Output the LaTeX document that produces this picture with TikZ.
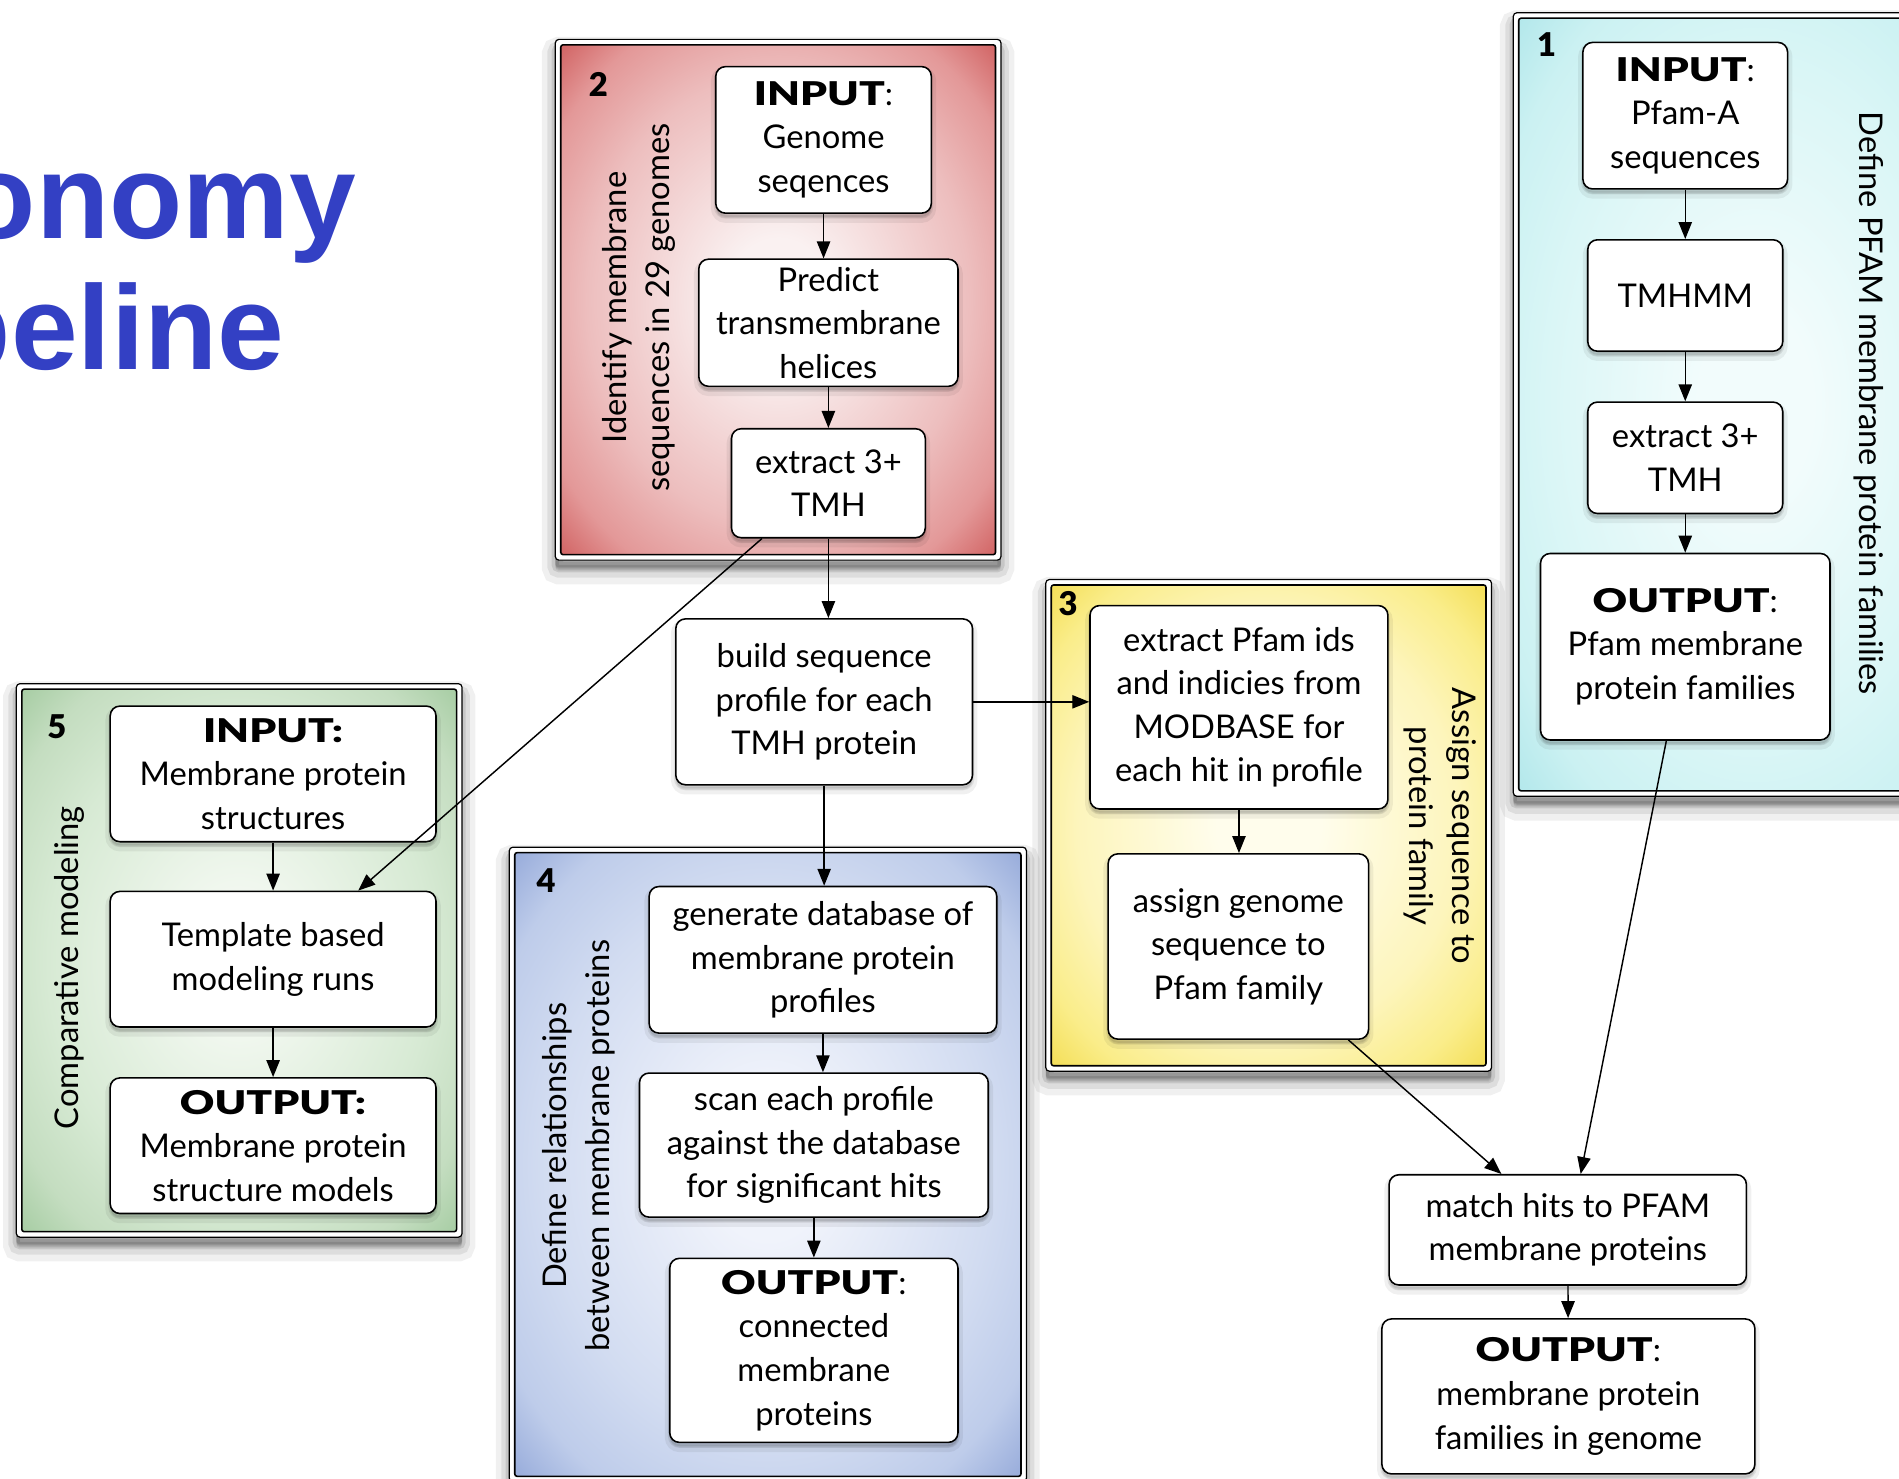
\documentclass[tikz,border=0pt]{standalone}
\usepackage{fontspec}
\usepackage{graphicx}
\setmainfont{Lato}
\newfontfamily\titlefont{Liberation Sans}
\IfFontExistsTF{Lato Black}{\newfontfamily\heavyfont{Lato Black}}{\newcommand\heavyfont{\bfseries}}
\usetikzlibrary{arrows.meta,calc}

% panel gradients: light centre, saturated corners
\definecolor{rIn}{RGB}{250,241,241}\definecolor{rMid}{RGB}{237,190,190}\definecolor{rEdge}{RGB}{227,152,152}\definecolor{rOut}{RGB}{204,84,84}
\definecolor{gIn}{RGB}{242,248,240}\definecolor{gMid}{RGB}{215,234,212}\definecolor{gEdge}{RGB}{196,221,192}\definecolor{gOut}{RGB}{158,200,155}
\definecolor{bIn}{RGB}{240,243,251}\definecolor{bMid}{RGB}{210,220,241}\definecolor{bEdge}{RGB}{190,204,234}\definecolor{bOut}{RGB}{140,162,214}
\definecolor{yIn}{RGB}{255,253,236}\definecolor{yMid}{RGB}{253,245,188}\definecolor{yEdge}{RGB}{250,237,138}\definecolor{yOut}{RGB}{242,218,72}
\definecolor{cIn}{RGB}{242,252,252}\definecolor{cMid}{RGB}{218,246,246}\definecolor{cEdge}{RGB}{203,241,242}\definecolor{cOut}{RGB}{172,229,233}
\definecolor{titleblue}{RGB}{51,64,196}

\pgfdeclareradialshading{shRed}{\pgfpoint{0bp}{0bp}}{color(0bp)=(rIn); color(6bp)=(rIn); color(22bp)=(rMid); color(30bp)=(rEdge); color(37bp)=(rOut); color(50bp)=(rOut)}
\pgfdeclareradialshading{shGreen}{\pgfpoint{0bp}{0bp}}{color(0bp)=(gIn); color(6bp)=(gIn); color(22bp)=(gMid); color(30bp)=(gEdge); color(37bp)=(gOut); color(50bp)=(gOut)}
\pgfdeclareradialshading{shBlue}{\pgfpoint{0bp}{0bp}}{color(0bp)=(bIn); color(6bp)=(bIn); color(22bp)=(bMid); color(30bp)=(bEdge); color(37bp)=(bOut); color(50bp)=(bOut)}
\pgfdeclareradialshading{shYellow}{\pgfpoint{0bp}{0bp}}{color(0bp)=(yIn); color(6bp)=(yIn); color(22bp)=(yMid); color(30bp)=(yEdge); color(37bp)=(yOut); color(50bp)=(yOut)}
\pgfdeclareradialshading{shCyan}{\pgfpoint{0bp}{0bp}}{color(0bp)=(cIn); color(6bp)=(cIn); color(22bp)=(cMid); color(30bp)=(cEdge); color(37bp)=(cOut); color(50bp)=(cOut)}

\newcommand\stepfont{\fontsize{27pt}{36pt}\selectfont}
\newcommand\hvword[1]{\scalebox{1.3}[1]{\heavyfont #1}}

\tikzset{
  panelframe/.style={draw=black, line width=1pt, fill=white, rounded corners=3pt, inner sep=0pt,
    preaction={fill=black, fill opacity=.06, draw=black, draw opacity=.06, line width=22pt, transform canvas={yshift=-9pt}},
    preaction={fill=black, fill opacity=.08, draw=black, draw opacity=.08, line width=13pt, transform canvas={yshift=-8pt}},
    preaction={fill=black, fill opacity=.10, draw=black, draw opacity=.10, line width=6pt, transform canvas={yshift=-7pt}},
    preaction={fill=black, fill opacity=.12, transform canvas={yshift=-6pt}}},
  panelfill/.style={draw=black, line width=1.3pt, rounded corners=2pt, inner sep=0pt, shade},
  stepbox/.style={draw=black, line width=1.3pt, fill=white, rounded corners=8pt, align=center,
    inner sep=0pt, font=\stepfont,
    preaction={fill=black, fill opacity=.06, draw=black, draw opacity=.06, line width=8pt, transform canvas={yshift=-4pt}},
    preaction={fill=black, fill opacity=.08, draw=black, draw opacity=.08, line width=3pt, transform canvas={yshift=-3pt}}},
  sidelabel/.style={align=center, font=\stepfont, inner sep=0pt},
  numlabel/.style={font=\fontsize{27pt}{30pt}\selectfont\heavyfont, inner sep=0pt},
  titletext/.style={font=\fontsize{99pt}{110pt}\selectfont\titlefont\bfseries, text=titleblue, inner sep=0pt},
  arr/.style={-{Triangle[length=14pt,width=11pt]}, line width=1.2pt},
}

\begin{document}
\begin{tikzpicture}[x=1pt, y=-1pt]
\useasboundingbox (0,0) rectangle (1568,1220.4);
\clip (0,0) rectangle (1568,1220.4);

% title (runs past the left edge)
\node[titletext, anchor=base east] (title1) at (294,197) {onomy};
\node[titletext, anchor=base east] (title2) at (235,305) {peline};

% ---------- panels ----------
\node[panelframe, minimum width=368pt, minimum height=430pt, anchor=north west] (p2f) at (458,32) {};
\node[panelfill, shading=shRed, minimum width=359pt, minimum height=421pt] (p2) at (p2f.center) {};

\node[panelframe, minimum width=368pt, minimum height=457pt, anchor=north west] (p5f) at (13,564) {};
\node[panelfill, shading=shGreen, minimum width=359pt, minimum height=448pt] (p5) at (p5f.center) {};

\node[panelframe, minimum width=427pt, minimum height=524pt, anchor=north west] (p4f) at (420,699) {};
\node[panelfill, shading=shBlue, minimum width=418pt, minimum height=515pt] (p4) at (p4f.center) {};

\node[panelframe, minimum width=368pt, minimum height=406pt, anchor=north west] (p3f) at (863,478) {};
\node[panelfill, shading=shYellow, minimum width=359pt, minimum height=397pt] (p3) at (p3f.center) {};

\node[panelframe, minimum width=400pt, minimum height=647pt, anchor=north west] (p1f) at (1249,10) {};
\node[panelfill, shading=shCyan, minimum width=391pt, minimum height=638pt] (p1) at (p1f.center) {};

% panel numbers
\node[numlabel] (n2) at (494,70) {2};
\node[numlabel] (n5) at (47,600) {5};
\node[numlabel] (n4) at (451,727) {4};
\node[numlabel] (n3) at (882,498) {3};
\node[numlabel] (n1) at (1277,37) {1};

% panel captions
\node[sidelabel, rotate=90] (cap2) at (527.5,254) {Identify membrane\\sequences in 29 genomes};
\node[sidelabel, rotate=90] (cap5) at (57,799) {Comparative modeling};
\node[sidelabel, rotate=90] (cap4) at (478,946) {Define relationships\\between membrane proteins};
\node[sidelabel, rotate=-90] (cap3) at (1189,682) {Assign sequence to\\protein family};
\node[sidelabel, rotate=-90] (cap1) at (1543,333) {Define PFAM membrane protein families};

% ---------- steps ----------
% panel 2
\node[stepbox, minimum width=178pt, minimum height=121pt] (in2) at (680,115.5) {\hvword{INPUT}:\\Genome\\seqences};
\node[stepbox, minimum width=214pt, minimum height=105pt] (pred2) at (684,266.5) {Predict\\transmembrane\\helices};
\node[stepbox, minimum width=160pt, minimum height=90pt] (ext2) at (684,399) {extract 3+\\TMH};
% shared step
\node[stepbox, minimum width=245pt, minimum height=137pt] (build) at (680.5,579.5) {build sequence\\profile for each\\TMH protein};
% panel 5
\node[stepbox, minimum width=269pt, minimum height=112pt] (in5) at (225.5,639) {\hvword{INPUT:}\\Membrane protein\\structures};
\node[stepbox, minimum width=269pt, minimum height=112pt] (tmpl5) at (225.5,792) {Template based\\modeling runs};
\node[stepbox, minimum width=269pt, minimum height=112pt] (out5) at (225.5,946) {\hvword{OUTPUT:}\\Membrane protein\\structure models};
% panel 4
\node[stepbox, minimum width=287pt, minimum height=121pt] (gen4) at (679.5,792.5) {generate database of\\membrane protein\\profiles};
\node[stepbox, minimum width=288pt, minimum height=119pt] (scan4) at (672,945.5) {scan each profile\\against the database\\for significant hits};
\node[stepbox, minimum width=238pt, minimum height=152pt] (out4) at (672,1115) {\hvword{OUTPUT}:\\connected\\membrane\\proteins};
% panel 3
\node[stepbox, minimum width=246pt, minimum height=168pt] (ex3) at (1023,584) {extract Pfam ids\\and indicies from\\MODBASE for\\each hit in profile};
\node[stepbox, minimum width=215pt, minimum height=153pt] (asg3) at (1022.5,781.5) {assign genome\\sequence to\\Pfam family};
% panel 1
\node[stepbox, minimum width=169pt, minimum height=121pt] (in1) at (1391.5,95.5) {\hvword{INPUT}:\\Pfam-A\\sequences};
\node[stepbox, minimum width=161pt, minimum height=92pt] (tm1) at (1391.5,244) {TMHMM};
\node[stepbox, minimum width=161pt, minimum height=92pt] (ext1) at (1391.5,378) {extract 3+\\TMH};
\node[stepbox, minimum width=239pt, minimum height=154pt] (out1) at (1391.5,534) {\hvword{OUTPUT}:\\Pfam membrane\\protein families};
% final steps
\node[stepbox, minimum width=295pt, minimum height=91pt] (match) at (1294.5,1015.5) {match hits to PFAM\\membrane proteins};
\node[stepbox, minimum width=308pt, minimum height=128pt] (outg) at (1295,1153) {\hvword{OUTPUT}:\\membrane protein\\families in genome};

% ---------- connectors ----------
\draw[arr] (in2.south) -- (in2.south |- pred2.north);
\draw[arr] (pred2.south) -- (pred2.south |- ext2.north);
\draw[arr] (ext2.south) -- (ext2.south |- build.north);
\draw[arr] ($(ext2.south west)!0.16!(ext2.south east)$) -- ($(tmpl5.north west)!0.76!(tmpl5.north east)$);
\draw[arr] (build.east) -- (build.east -| ex3.west);
\draw[arr] (build.south) -- (build.south |- gen4.north);
\draw[arr] (gen4.south) -- (gen4.south |- scan4.north);
\draw[arr] (scan4.south) -- (scan4.south |- out4.north);
\draw[arr] (in5) -- (tmpl5);
\draw[arr] (tmpl5) -- (out5);
\draw[arr] (ex3.south) -- (ex3.south |- asg3.north);
\draw[arr] (in1) -- (tm1);
\draw[arr] (tm1) -- (ext1);
\draw[arr] (ext1) -- (out1);
\draw[arr] ($(out1.south west)!0.435!(out1.south east)$) -- ($(match.north west)!0.536!(match.north east)$);
\draw[arr] ($(asg3.south west)!0.92!(asg3.south east)$) -- ($(match.north west)!0.315!(match.north east)$);
\draw[arr] (match) -- (outg);
\end{tikzpicture}
\end{document}
